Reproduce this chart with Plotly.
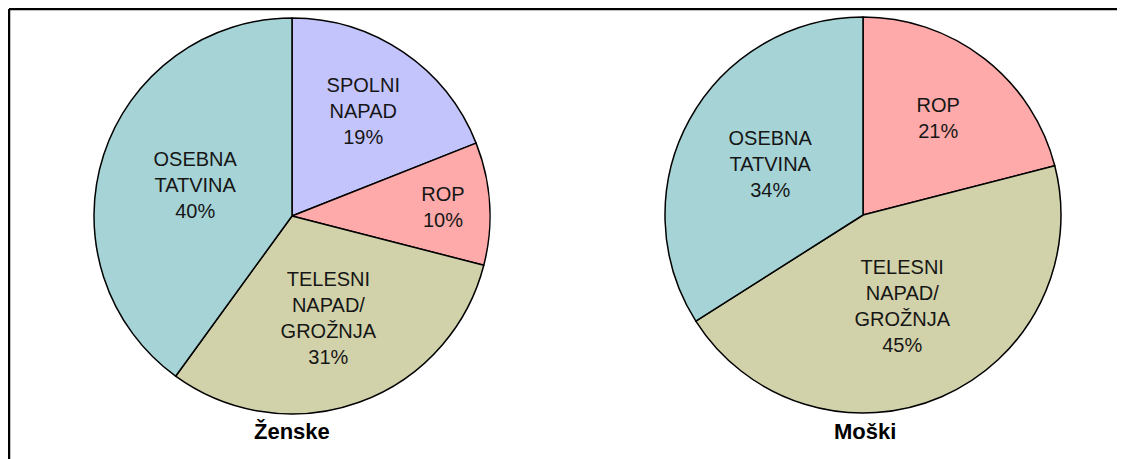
import plotly.graph_objects as go

# Browser page has an 8px body margin; figure is sized so it fits the window.
OFF = 8
W, H = 1125 - OFF, 459 - OFF

# Data
women_labels = ["SPOLNI<br>NAPAD", "ROP", "TELESNI<br>NAPAD/<br>GROŽNJA", "OSEBNA<br>TATVINA"]
women_values = [19, 10, 31, 40]
men_labels = ["ROP", "TELESNI<br>NAPAD/<br>GROŽNJA", "OSEBNA<br>TATVINA"]
men_values = [21, 45, 34]
titles = ["Ženske", "Moški"]

color_map = {
    "SPOLNI<br>NAPAD": "#c4c4fc",
    "ROP": "#ffaaaa",
    "TELESNI<br>NAPAD/<br>GROŽNJA": "#d2d2aa",
    "OSEBNA<br>TATVINA": "#a6d4d6",
}

FONT = "Liberation Sans, Arial, sans-serif"


def px(x):
    return (x - OFF) / W


def py(y):
    return (H - (y - OFF)) / H


def dom(cx, cy, r):
    return dict(x=[px(cx - r), px(cx + r)], y=[py(cy + r), py(cy - r)])


fig = go.Figure()
for labels, values, (cx, cy) in [(women_labels, women_values, (292, 216)),
                                 (men_labels, men_values, (863, 215))]:
    fig.add_trace(go.Pie(
        labels=labels, values=values, sort=False, direction="clockwise",
        rotation=0, domain=dom(cx, cy, 198),
        marker=dict(colors=[color_map[l] for l in labels],
                    line=dict(color="#000000", width=1.5)),
        texttemplate="%{label}<br>%{percent:.0%}",
        textposition="inside", insidetextorientation="horizontal",
        textfont=dict(family=FONT, size=20, color="#161616"),
        hoverinfo="label+percent", showlegend=False,
    ))

for t, cx in zip(titles, [292, 865]):
    fig.add_annotation(text=f"<b>{t}</b>", x=px(cx), y=py(431),
                       xref="paper", yref="paper", showarrow=False,
                       xanchor="center", yanchor="middle",
                       font=dict(family=FONT, size=22, color="#000000"))

# frame lines (top and left)
fig.add_shape(type="line", xref="paper", yref="paper", x0=px(9), x1=1.0,
              y0=py(9), y1=py(9), line=dict(color="black", width=2.5))
fig.add_shape(type="line", xref="paper", yref="paper", x0=px(9), x1=px(9),
              y0=0, y1=py(9), line=dict(color="black", width=2.5))

fig.update_layout(width=W, height=H, margin=dict(l=0, r=0, t=0, b=0),
                  paper_bgcolor="white", plot_bgcolor="white",
                  uniformtext=dict(minsize=20, mode="show"))
fig.write_html("out.html")
